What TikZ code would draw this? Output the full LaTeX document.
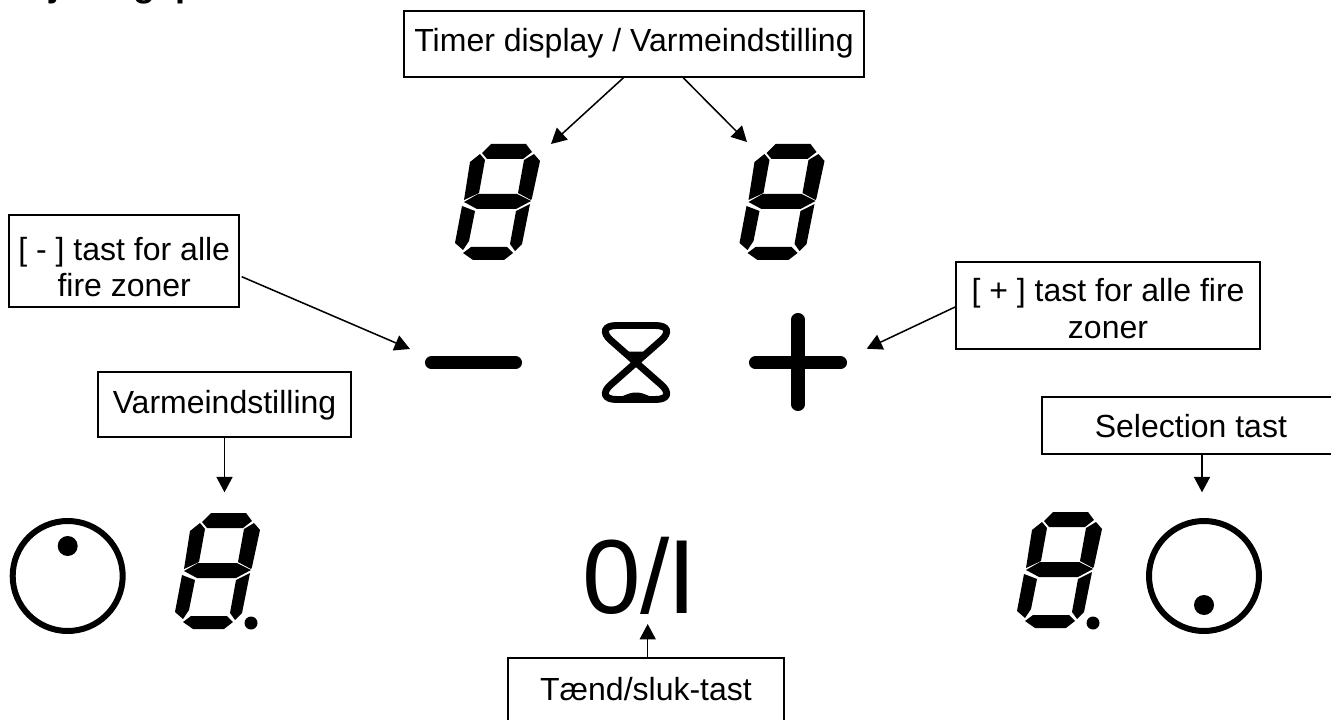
\documentclass[tikz,border=0pt]{standalone}
\usepackage{fontspec}
\setmainfont{Liberation Sans}
\usetikzlibrary{arrows.meta}
\tikzset{x=0.75pt,y=-0.75pt,
 lab/.style={draw,line width=1.3pt,inner sep=0pt,align=center,font=\fontsize{24}{27.4}\selectfont},
 arr/.style={line width=1.15pt,-{Triangle[length=11.5pt,width=12pt]}},
 ring/.style={draw,line width=4.5pt},
 bar/.style={line width=9.8pt,line cap=round}}
\newcommand{\lbl}[2]{\raisebox{#1}[0pt][0pt]{\begin{tabular}[t]{@{}c@{}}#2\end{tabular}}}
\newcommand{\digit}[2]{%
 \begin{scope}[shift={(#1,#2)}]
  \fill (202,522) -- (211,513) -- (246,513) -- (252,521) -- (243,528) -- (207,528) -- cycle;
  \fill (254,523) -- (260,530) -- (252,567) -- (251,569) -- (238,562) -- (244,529) -- cycle;
  \fill (200,523) -- (205,529) -- (199,562) -- (184,569) -- (190,531) -- cycle;
  \fill (184,571) -- (198,563) -- (237,563) -- (251,570) -- (236,578) -- (197,578) -- cycle;
  \fill (182,575) -- (195,580) -- (189,610) -- (183,619) -- (175,612) -- cycle;
  \fill (250,573) -- (242,613) -- (235,620) -- (230,613) -- (236,580) -- cycle;
  \fill (183,622) -- (191,616) -- (227,616) -- (233,622) -- (224,629) -- (193,629) -- cycle;
 \end{scope}}
\begin{document}
\begin{tikzpicture}
\useasboundingbox (0,0) rectangle (1331,720);
% clipped page heading
\node[anchor=base west,inner sep=0pt,font=\bfseries\fontsize{27}{27}\selectfont] (title) at (-9,-3) {Betjeningspanel};
% labels
\node[lab,minimum width=460*0.75pt,minimum height=66*0.75pt] (timer) at (634,44) {\lbl{-6pt}{Timer display / Varmeindstilling}};
\node[lab,minimum width=230.3*0.75pt,minimum height=92.3*0.75pt] (minuslab) at (124.2,261.15) {\lbl{0.86pt}{[ - ] tast for alle\\fire zoner}};
\node[lab,minimum width=304*0.75pt,minimum height=87*0.75pt] (pluslab) at (1108,305.2) {\lbl{2.6pt}{[ + ] tast for alle fire\\zoner}};
\node[lab,minimum width=253*0.75pt,minimum height=65*0.75pt] (varme) at (224.5,404.5) {\lbl{-7.1pt}{Varmeindstilling}};
\node[lab,minimum width=298*0.75pt,minimum height=57.3*0.75pt] (select) at (1190.9,425.3) {\lbl{-9.5pt}{Selection tast}};
\node[lab,minimum width=276*0.75pt,minimum height=71.7*0.75pt] (power) at (646,694) {\lbl{-4.5pt}{Tænd/sluk-tast}};
% digits
\digit{0}{0}
\digit{842}{-1}
\digit{280}{-369}
\digit{564.5}{-369}
% decimal points
\fill (251,623) circle[radius=6.5];
\fill (1093,623) circle[radius=6.5];
% dials
\node[circle,ring,minimum size=110*0.75pt,inner sep=0pt] (dialL) at (67.7,576) {};
\fill (67.7,546) circle[radius=10];
\node[circle,ring,minimum size=110*0.75pt,inner sep=0pt] (dialR) at (1204,576) {};
\fill (1204,605) circle[radius=10];
% minus and plus
\draw[bar] (431.5,362.7) -- (515.5,362.7);
\draw[bar] (755.5,362.7) -- (840.5,362.7);
\draw[bar] (798,319.5) -- (798,404.5);
% hourglass
\draw[line width=5.2pt,rounded corners=17pt] (594,325.5) -- (678,325.5) -- (594,399.5) -- (678,399.5) -- cycle;
\fill (624,352) .. controls (630,351.5) and (642,351.5) .. (648,352) -- (636,363) -- cycle;
\fill (618,398) .. controls (628,394) and (630,392.5) .. (636,392.5) .. controls (642,392.5) and (644,394) .. (654,398) -- (654,401) -- (618,401) -- cycle;
% power symbol
\node[anchor=base west,inner sep=0pt,font=\fontsize{79}{79}\selectfont] (onoff) at (582,613) {0/\kern-2.2pt I};
% arrow targets
\coordinate (tipA) at (551,144);
\coordinate (tipB) at (747,142);
\coordinate (tipMinus) at (410,349);
\coordinate (tipPlus) at (866.7,348.7);
\coordinate (tipVarme) at (224.5,492.3);
\coordinate (tipSelect) at (1202,492.3);
\coordinate (tipPower) at (647.7,624);
\coordinate (fromMinus) at (241.7,276.7);
% connectors
\draw[arr] ([xshift=-8pt]timer.south) -- (tipA);
\draw[arr] ([xshift=37pt]timer.south) -- (tipB);
\draw[arr] (fromMinus) -- (tipMinus);
\draw[arr] (pluslab.west) ++(0,1.8) -- (tipPlus);
\draw[arr] (varme.south) -- (tipVarme);
\draw[arr] (select.south -| tipSelect) -- (tipSelect);
\draw[arr] (power.north -| tipPower) -- (tipPower);
\end{tikzpicture}
\end{document}
